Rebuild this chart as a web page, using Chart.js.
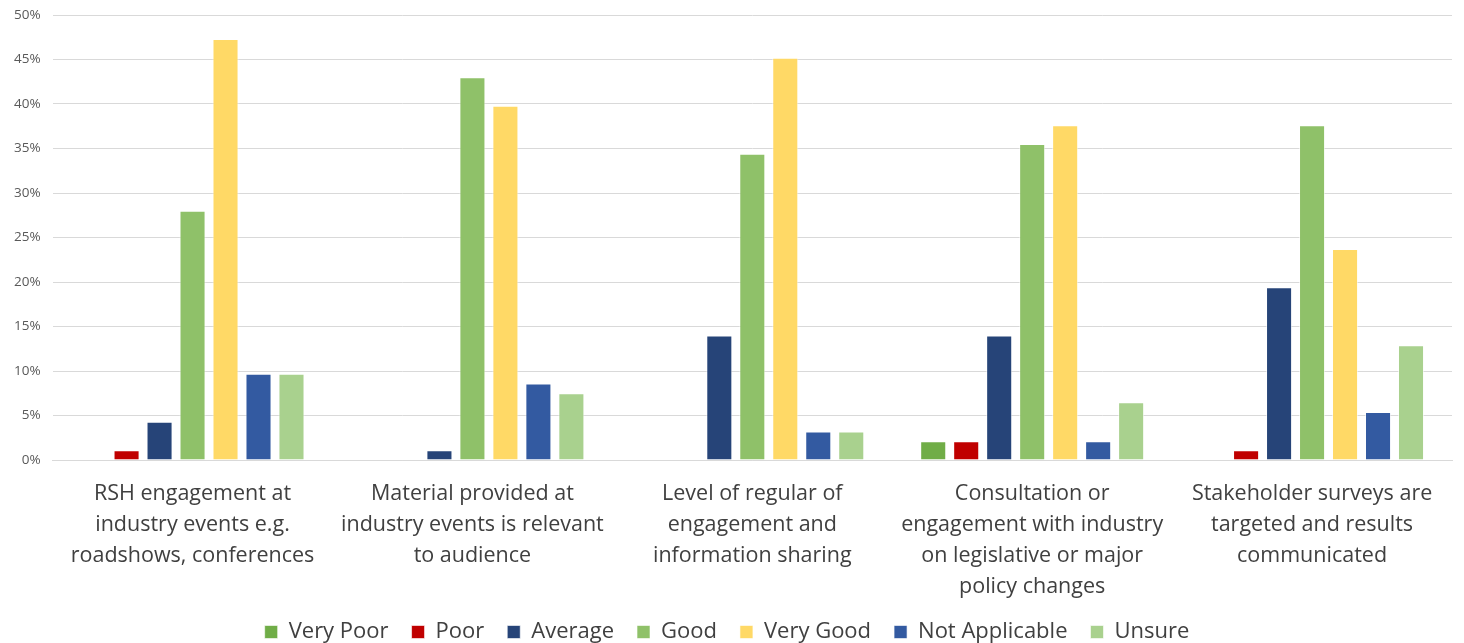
<!DOCTYPE html>
<html>
<head>
<meta charset="utf-8">
<script src="https://cdn.jsdelivr.net/npm/chart.js@4"></script>
<style>
    html, body { margin: 0; padding: 0; background: #fff; }
    #wrap { width: 1464px; height: 643px; }
</style>
</head>
<body>
<div id="wrap"><canvas id="ratingChart"></canvas></div>
<script>
const categories = [
    ['RSH engagement at', 'industry events e.g.', 'roadshows, conferences'],
    ['Material provided at', 'industry events is relevant', 'to audience'],
    ['Level of regular of', 'engagement and', 'information sharing'],
    ['Consultation or', 'engagement with industry', 'on legislative or major', 'policy changes'],
    ['Stakeholder surveys are', 'targeted and results', 'communicated']
];
const yTicks = [0, 5, 10, 15, 20, 25, 30, 35, 40, 45, 50];

const veryPoor = [0, 0, 0, 2.1, 0];
const poor = [1.1, 0, 0, 2.1, 1.1];
const average = [4.3, 1.1, 14.0, 14.0, 19.4];
const good = [28.0, 43.0, 34.4, 35.5, 37.6];
const veryGood = [47.3, 39.8, 45.2, 37.6, 23.7];
const notApplicable = [9.7, 8.6, 3.2, 2.1, 5.4];
const unsure = [9.7, 7.5, 3.2, 6.5, 12.9];

const font = "'Open Sans', 'Liberation Sans', sans-serif";

function series(label, data, color) {
    return {
        label,
        data,
        backgroundColor: color,
        borderColor: 'rgba(255,255,255,0.6)',
        borderWidth: 1,
        categoryPercentage: 0.825,
        barPercentage: 0.79
    };
}

const ctx = document.getElementById('ratingChart');

new Chart(ctx, {
    type: 'bar',
    data: {
        labels: categories,
        datasets: [
            series('Very Poor', veryPoor, '#70ad47'),
            series('Poor', poor, '#c00000'),
            series('Average', average, '#264478'),
            series('Good', good, '#8fc169'),
            series('Very Good', veryGood, '#ffd966'),
            series('Not Applicable', notApplicable, '#335aa1'),
            series('Unsure', unsure, '#a9d18e')
        ]
    },
    options: {
        responsive: true,
        maintainAspectRatio: false,
        animation: false,
        layout: {
            padding: { top: 15, right: 12, left: 2, bottom: -10 }
        },
        scales: {
            x: {
                grid: { display: false },
                border: { color: '#d9d9d9' },
                afterFit: function (scale) {
                    scale.height = 138;
                },
                ticks: {
                    color: '#404040',
                    font: { family: font, size: 21.5, lineHeight: 1.43 },
                    maxRotation: 0,
                    padding: 11
                }
            },
            y: {
                min: 0,
                max: 50,
                afterBuildTicks: function (axis) {
                    axis.ticks = yTicks.map(v => ({ value: v }));
                },
                afterFit: function (scale) {
                    scale.paddingTop = 0;
                    scale.paddingBottom = 0;
                },
                grid: { color: '#d9d9d9', drawTicks: false },
                border: { display: false },
                ticks: {
                    color: '#595959',
                    font: { family: font, size: 13.5 },
                    padding: 12,
                    callback: function (value) {
                        return value + '%';
                    }
                }
            }
        },
        plugins: {
            tooltip: { enabled: false },
            legend: {
                position: 'bottom',
                labels: {
                    color: '#404040',
                    font: { family: font, size: 22 },
                    boxWidth: 13,
                    boxHeight: 13,
                    padding: 23
                }
            }
        }
    }
});
</script>
</body>
</html>
